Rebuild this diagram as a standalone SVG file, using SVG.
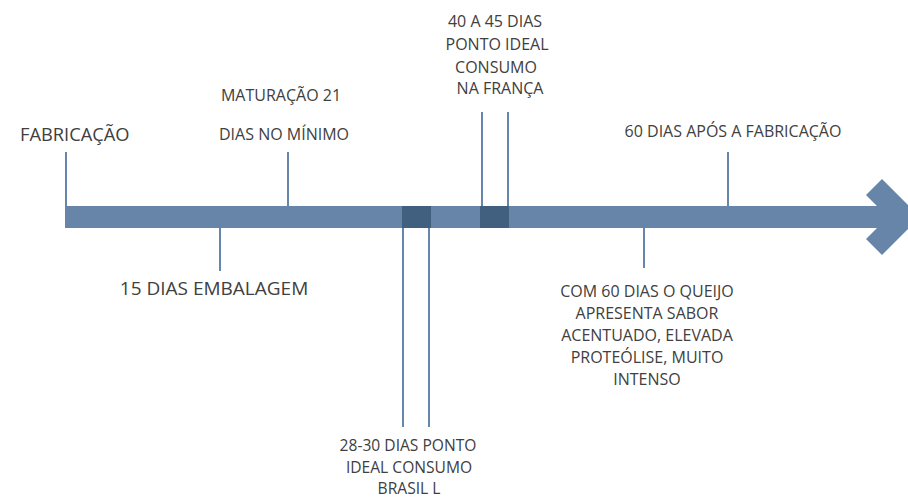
<svg xmlns="http://www.w3.org/2000/svg" width="908" height="499" viewBox="0 0 908 499">
<style>
text{font-family:"Open Sans","Liberation Sans",sans-serif;fill:#404040;font-size:16px}
.c{text-anchor:middle}
.ln{stroke:#6787aa;stroke-width:2;fill:none}
</style>
<rect width="908" height="499" fill="#ffffff"/>
<g id="connectors">
<line class="ln" x1="66" y1="152" x2="66" y2="207"/>
<line class="ln" x1="288" y1="152" x2="288" y2="207"/>
<line class="ln" x1="220" y1="227" x2="220" y2="271"/>
<line class="ln" x1="403" y1="227" x2="403" y2="427"/>
<line class="ln" x1="429" y1="227" x2="429" y2="427"/>
<line class="ln" x1="482" y1="112" x2="482" y2="207"/>
<line class="ln" x1="508" y1="112" x2="508" y2="207"/>
<line class="ln" x1="728" y1="152" x2="728" y2="207"/>
<line class="ln" x1="644" y1="227" x2="644" y2="268"/>
</g>
<g id="timeline">
<polygon fill="#6685a9" points="65,206 877,206 866,195 882,179 920,217 882,255 866,239 877,228 65,228"/>
<rect x="402" y="206" width="29" height="22" fill="#415f7f"/>
<rect x="480" y="206" width="29" height="22" fill="#415f7f"/>
</g>
<g id="fabricacao"><text x="20" y="141" style="font-size:18.3px">FABRICAÇÃO</text></g>
<g id="maturacao">
<text x="281" y="101" class="c">MATURAÇÃO 21</text>
<text x="284" y="140" class="c">DIAS NO MÍNIMO</text>
</g>
<g id="embalagem"><text x="214" y="295" class="c" style="font-size:19px">15 DIAS EMBALAGEM</text></g>
<g id="brasil" style="font-size:15.6px">
<text x="408" y="451" class="c" style="font-size:15.6px">28-30 DIAS PONTO</text>
<text x="409" y="472.5" class="c" style="font-size:15.6px">IDEAL CONSUMO</text>
<text x="409" y="494" class="c" style="font-size:15.6px">BRASIL L</text>
</g>
<g id="franca">
<text x="495" y="27" class="c">40 A 45 DIAS</text>
<text x="497" y="50" class="c">PONTO IDEAL</text>
<text x="496" y="73" class="c">CONSUMO</text>
<text x="500" y="94" class="c">NA FRANÇA</text>
</g>
<g id="sessenta"><text x="733" y="137" class="c">60 DIAS APÓS A FABRICAÇÃO</text></g>
<g id="com60">
<text x="647" y="297" class="c">COM 60 DIAS O QUEIJO</text>
<text x="647" y="319" class="c">APRESENTA SABOR</text>
<text x="647" y="341" class="c">ACENTUADO, ELEVADA</text>
<text x="647" y="363" class="c">PROTEÓLISE, MUITO</text>
<text x="647" y="385" class="c">INTENSO</text>
</g>
</svg>
